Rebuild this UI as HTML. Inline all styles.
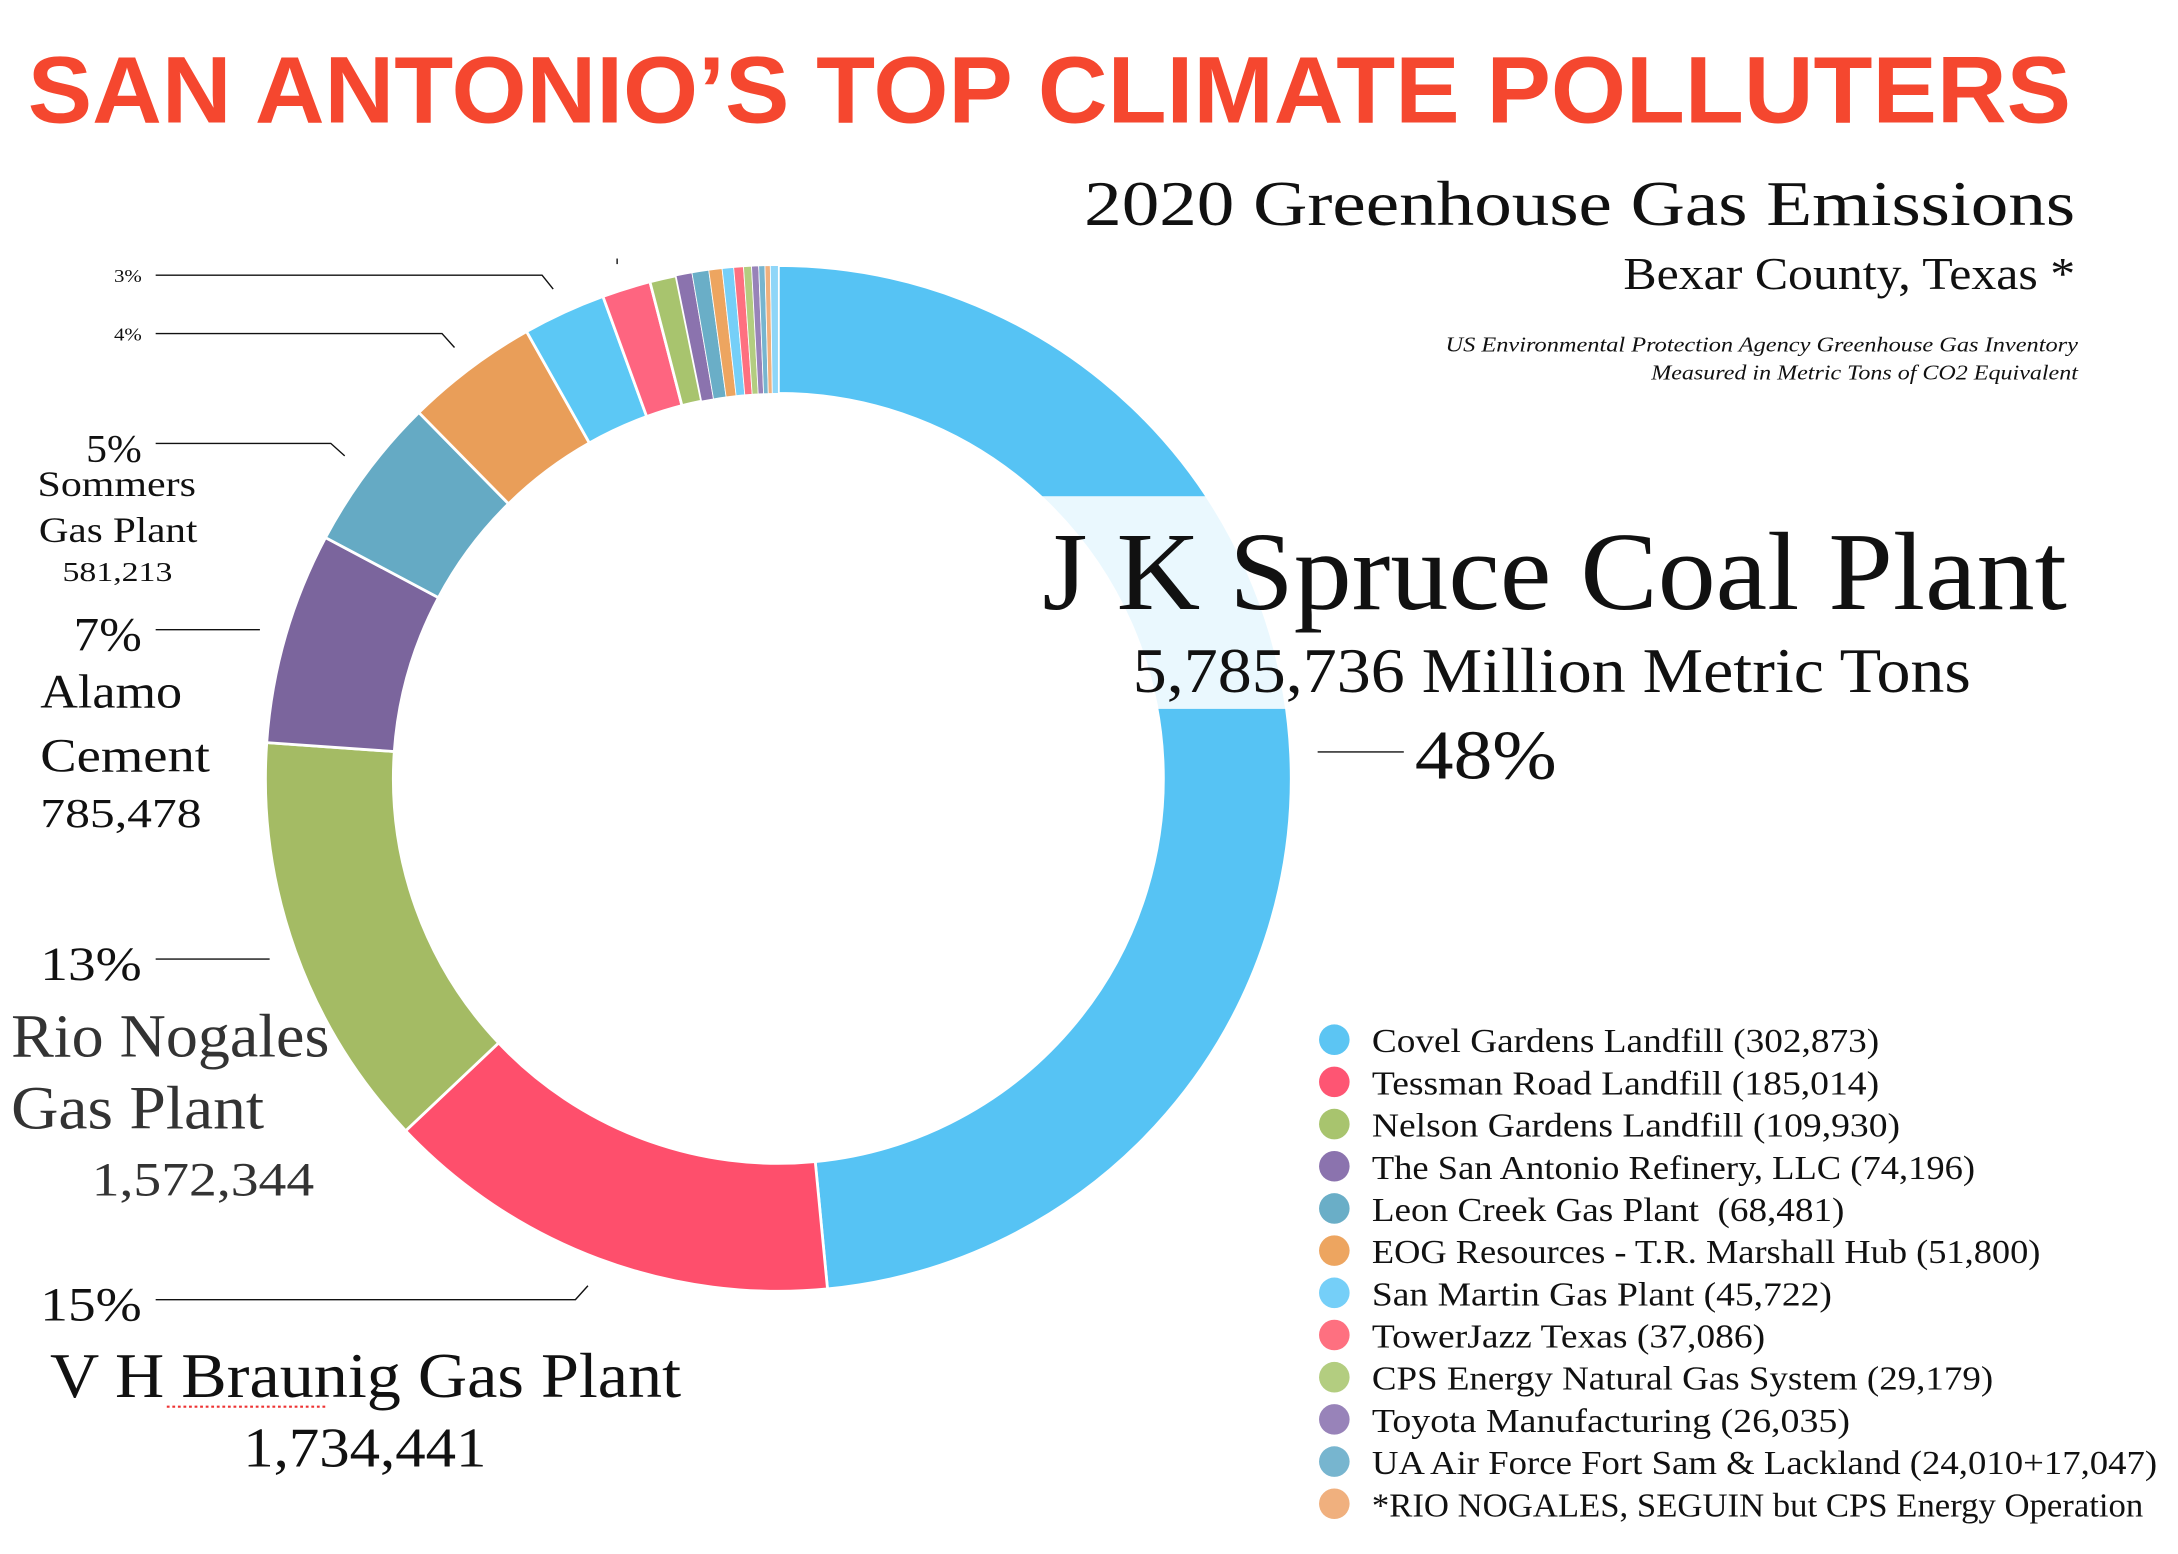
<!DOCTYPE html>
<html><head><meta charset="utf-8"><style>
html,body{margin:0;padding:0;background:#fff;width:2178px;height:1554px;overflow:hidden;}
svg{display:block;overflow:hidden;}
text{font-family:"Liberation Serif",serif;fill:#111;}
</style></head><body>
<svg width="2178" height="1554" viewBox="0 0 1567 1118" preserveAspectRatio="none" xmlns="http://www.w3.org/2000/svg">
<rect width="1567" height="1118" fill="#fff"/>
<text x="20" y="88" font-weight="bold" font-size="68" style="font-family:'Liberation Sans',sans-serif;fill:#f5472f" textLength="1470" lengthAdjust="spacingAndGlyphs">SAN ANTONIO’S TOP CLIMATE POLLUTERS</text>
<text x="1493" y="162" font-size="46" text-anchor="end" textLength="713" lengthAdjust="spacingAndGlyphs">2020 Greenhouse Gas Emissions</text>
<text x="1493" y="208" font-size="33" text-anchor="end" textLength="325" lengthAdjust="spacingAndGlyphs">Bexar County, Texas *</text>
<text x="1495" y="253" font-size="15" font-style="italic" text-anchor="end" textLength="455" lengthAdjust="spacingAndGlyphs">US Environmental Protection Agency Greenhouse Gas Inventory</text>
<text x="1495" y="273" font-size="15" font-style="italic" text-anchor="end" textLength="307" lengthAdjust="spacingAndGlyphs">Measured in Metric Tons of CO2 Equivalent</text>
<g id="donut"></g>
<rect x="748" y="357" width="200" height="153" fill="#fff" fill-opacity="0.88"/>
<text x="750" y="438" font-size="80" textLength="737" lengthAdjust="spacingAndGlyphs">J K Spruce Coal Plant</text>
<text x="815" y="498" font-size="46" textLength="603" lengthAdjust="spacingAndGlyphs">5,785,736 Million Metric Tons</text>
<text x="1018" y="560" font-size="50" textLength="102" lengthAdjust="spacingAndGlyphs">48%</text>
<g stroke="#111" stroke-width="1" fill="none">
<line x1="948" y1="541" x2="1010" y2="541"/>
<polyline points="112,198 390,198 398,208"/>
<polyline points="112,240 318,240 327,250"/>
<line x1="444" y1="186" x2="444" y2="190"/>
<polyline points="112,319 238,319 248,328"/>
<line x1="112" y1="453" x2="187" y2="453"/>
<line x1="112" y1="690" x2="194" y2="690"/>
<polyline points="112,935 414,935 423,925"/>
</g>
<text x="82" y="203" font-size="13" textLength="20" lengthAdjust="spacingAndGlyphs">3%</text>
<text x="82" y="245" font-size="13" textLength="20" lengthAdjust="spacingAndGlyphs">4%</text>
<text x="62" y="332" font-size="28" textLength="40" lengthAdjust="spacingAndGlyphs">5%</text>
<text x="27" y="357" font-size="26" textLength="114" lengthAdjust="spacingAndGlyphs">Sommers</text>
<text x="28" y="390" font-size="26" textLength="114" lengthAdjust="spacingAndGlyphs">Gas Plant</text>
<text x="45" y="418" font-size="20" textLength="79" lengthAdjust="spacingAndGlyphs">581,213</text>
<text x="53" y="468" font-size="34" textLength="49" lengthAdjust="spacingAndGlyphs">7%</text>
<text x="29" y="509" font-size="34" textLength="102" lengthAdjust="spacingAndGlyphs">Alamo</text>
<text x="29" y="555" font-size="34" textLength="122" lengthAdjust="spacingAndGlyphs">Cement</text>
<text x="29" y="595" font-size="30" textLength="116" lengthAdjust="spacingAndGlyphs">785,478</text>
<text x="29" y="705" font-size="34" textLength="73" lengthAdjust="spacingAndGlyphs">13%</text>
<text x="8" y="760" font-size="44" textLength="229" lengthAdjust="spacingAndGlyphs" style="fill:#333">Rio Nogales</text>
<text x="8" y="812" font-size="44" textLength="182" lengthAdjust="spacingAndGlyphs" style="fill:#333">Gas Plant</text>
<text x="66" y="860" font-size="34" textLength="160" lengthAdjust="spacingAndGlyphs" style="fill:#333">1,572,344</text>
<text x="29" y="950" font-size="34" textLength="73" lengthAdjust="spacingAndGlyphs">15%</text>
<text x="36" y="1005" font-size="46" textLength="454" lengthAdjust="spacingAndGlyphs">V H Braunig Gas Plant</text>
<line x1="120" y1="1012" x2="235" y2="1012" stroke="#e33" stroke-width="1.5" stroke-dasharray="2,2"/>
<text x="175" y="1055" font-size="40" textLength="175" lengthAdjust="spacingAndGlyphs">1,734,441</text>
<g font-size="24">
<circle cx="960" cy="748" r="11" fill="#5cc5f3"/><text x="987" y="757" textLength="365" lengthAdjust="spacingAndGlyphs">Covel Gardens Landfill (302,873)</text>
<circle cx="960" cy="778.35" r="11" fill="#fe5573"/><text x="987" y="787.35" textLength="365" lengthAdjust="spacingAndGlyphs">Tessman Road Landfill (185,014)</text>
<circle cx="960" cy="808.7" r="11" fill="#a8c46e"/><text x="987" y="817.7" textLength="380" lengthAdjust="spacingAndGlyphs">Nelson Gardens Landfill (109,930)</text>
<circle cx="960" cy="839.05" r="11" fill="#8b73ae"/><text x="987" y="848.05" textLength="434" lengthAdjust="spacingAndGlyphs">The San Antonio Refinery, LLC (74,196)</text>
<circle cx="960" cy="869.4" r="11" fill="#6aaec7"/><text x="987" y="878.4" textLength="340" lengthAdjust="spacingAndGlyphs" xml:space="preserve">Leon Creek Gas Plant  (68,481)</text>
<circle cx="960" cy="899.75" r="11" fill="#eda560"/><text x="987" y="908.75" textLength="481" lengthAdjust="spacingAndGlyphs">EOG Resources - T.R. Marshall Hub (51,800)</text>
<circle cx="960" cy="930.1" r="11" fill="#75cff8"/><text x="987" y="939.1" textLength="331" lengthAdjust="spacingAndGlyphs">San Martin Gas Plant (45,722)</text>
<circle cx="960" cy="960.45" r="11" fill="#fe7080"/><text x="987" y="969.45" textLength="283" lengthAdjust="spacingAndGlyphs">TowerJazz Texas (37,086)</text>
<circle cx="960" cy="990.8" r="11" fill="#b3cd80"/><text x="987" y="999.8" textLength="447" lengthAdjust="spacingAndGlyphs">CPS Energy Natural Gas System (29,179)</text>
<circle cx="960" cy="1021.15" r="11" fill="#9883b9"/><text x="987" y="1030.15" textLength="344" lengthAdjust="spacingAndGlyphs">Toyota Manufacturing (26,035)</text>
<circle cx="960" cy="1051.5" r="11" fill="#77b5cf"/><text x="987" y="1060.5" textLength="565" lengthAdjust="spacingAndGlyphs">UA Air Force Fort Sam &amp; Lackland (24,010+17,047)</text>
<circle cx="960" cy="1081.85" r="11" fill="#f0b07e"/><text x="987" y="1090.85" textLength="555" lengthAdjust="spacingAndGlyphs">*RIO NOGALES, SEGUIN but CPS Energy Operation</text>
</g>
<script>
(function(){
var NS="http://www.w3.org/2000/svg";
var cx=560,cy=560,R=369,r=277;
var segs=[[0,174.5,"#56c3f4"],[174.5,226.6,"#fe4f6c"],[226.6,274,"#a4bb64"],[274,298,"#7b659d"],[298,315.5,"#65aac4"],[315.5,330.6,"#e99e59"],[330.6,340,"#5cc8f5"],[340,345.5,"#fe6580"],[345.5,348.5,"#a8c46e"],[348.5,350.3,"#8b73ae"],[350.3,352.2,"#6aaec7"],[352.2,353.7,"#eda560"],[353.7,355,"#75cff8"],[355,356.1,"#fe7080"],[356.1,357,"#b3cd80"],[357,357.8,"#9883b9"],[357.8,358.5,"#77b5cf"],[358.5,359.1,"#f0b07e"],[359.1,360,"#8fd6f8"]];
function pt(a,rad){a=a*Math.PI/180;return [cx+rad*Math.sin(a),cy-rad*Math.cos(a)];}
var g=document.getElementById("donut");
segs.forEach(function(s){
var a=s[0],b=s[1],l=(b-a)>180?1:0;
var p1=pt(a,R),p2=pt(b,R),p3=pt(b,r),p4=pt(a,r);
var p=document.createElementNS(NS,"path");
p.setAttribute("d","M"+p1+"A"+R+","+R+" 0 "+l+" 1 "+p2+"L"+p3+"A"+r+","+r+" 0 "+l+" 0 "+p4+"Z");
p.setAttribute("fill",s[2]);p.setAttribute("stroke","#fff");p.setAttribute("stroke-width",(b-a)<3?"0.6":"2");
g.appendChild(p);});
})();
</script>
</svg>
</body></html>
